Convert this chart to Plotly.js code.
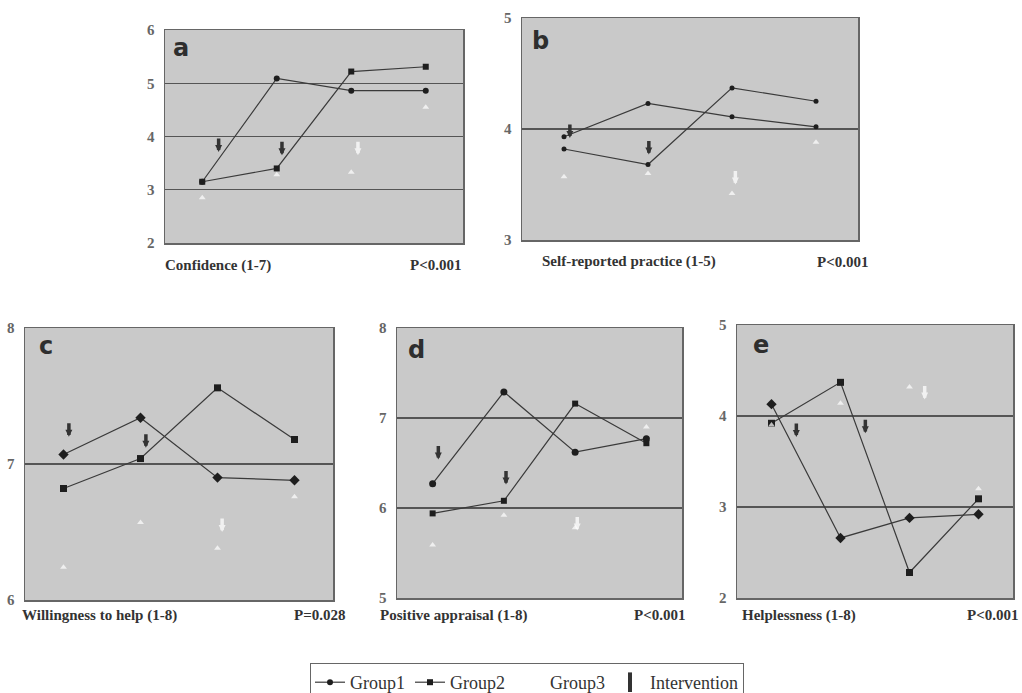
<!DOCTYPE html>
<html>
<head>
<meta charset="utf-8">
<script src="https://cdn.plot.ly/plotly-3.0.1.min.js"></script>
<style>
  html, body { margin: 0; padding: 0; background: #ffffff; }
  #chart { width: 1022px; height: 693px; }
</style>
</head>
<body>
<div id="chart"></div>
<script>
// ---------- DATA ----------
const timepoints = [1, 2, 3, 4];

// a: Confidence (1-7)
const confG1 = [3.15, 5.09, 4.86, 4.86];
const confG2 = [3.15, 3.40, 5.22, 5.31];
const confG3 = [2.85, 3.28, 3.33, 4.55];
const confArrowX = [1.22, 2.07, 3.09];
const confArrowY = [3.71, 3.65, 3.65];

// b: Self-reported practice (1-5)
const practG1 = [3.93, 4.23, 4.11, 4.02];
const practG2 = [3.82, 3.68, 4.37, 4.25];
const practG3 = [3.57, 3.60, 3.42, 3.88];
const practArrowX = [1.07, 2.01, 3.04];
const practArrowY = [3.92, 3.77, 3.50];

// c: Willingness to help (1-8)
const willG1 = [7.07, 7.34, 6.90, 6.88];
const willG2 = [6.82, 7.04, 7.56, 7.18];
const willG3 = [6.24, 6.57, 6.38, 6.76];
const willArrowX = [1.07, 2.07, 3.06];
const willArrowY = [7.20, 7.12, 6.50];

// d: Positive appraisal (1-8)
const apprG1 = [6.27, 7.29, 6.62, 6.77];
const apprG2 = [5.94, 6.08, 7.16, 6.72];
const apprG3 = [5.59, 5.92, 5.78, 6.90];
const apprArrowX = [1.08, 2.03, 3.03];
const apprArrowY = [6.54, 6.26, 5.75];

// e: Helplessness (1-8)
const helpG1 = [4.13, 2.66, 2.88, 2.92];
const helpG2 = [3.92, 4.37, 2.28, 3.09];
const helpG3 = [3.90, 4.14, 4.32, 3.20];
const helpArrowX = [1.36, 2.36, 3.22];
const helpArrowY = [3.77, 3.81, 4.18];

const panelLetters = ['a', 'b', 'c', 'd', 'e'];
const panelTitles = ['Confidence (1-7)', 'Self-reported practice (1-5)', 'Willingness to help (1-8)', 'Positive appraisal (1-8)', 'Helplessness (1-8)'];
const panelPValues = ['P<0.001', 'P<0.001', 'P=0.028', 'P<0.001', 'P<0.001'];
const yRanges = [[2, 6], [3, 5], [6, 8], [5, 8], [2, 5]];
const seriesNames = ['Group1', 'Group2', 'Group3', 'Intervention'];

// ---------- LAYOUT HELPERS ----------
const W = 1022, H = 693;
const px = v => v / W;
const py = v => 1 - v / H;
const serif = 'Liberation Serif';

const panels = [
  {g1: confG1, g2: confG2, g3: confG3, ax: confArrowX, ay: confArrowY,
   box: [165, 463, 30, 243], m1: 'circle', s1: 6, m2: 'square', s2: 6,
   letter: [0.054, 0.915], label: [163, 463, 265]},
  {g1: practG1, g2: practG2, g3: practG3, ax: practArrowX, ay: practArrowY,
   box: [522, 858, 18, 240], m1: 'circle', s1: 5, m2: 'circle', s2: 5,
   letter: [0.054, 0.896], label: [540, 870, 262]},
  {g1: willG1, g2: willG2, g3: willG3, ax: willArrowX, ay: willArrowY,
   box: [25, 333, 328, 600], m1: 'diamond', s1: 8, m2: 'square', s2: 7,
   letter: [0.068, 0.934], label: [20, 347, 615]},
  {g1: apprG1, g2: apprG2, g3: apprG3, ax: apprArrowX, ay: apprArrowY,
   box: [397, 682, 328, 598], m1: 'circle', s1: 7, m2: 'square', s2: 6,
   letter: [0.067, 0.918], label: [378, 687, 615]},
  {g1: helpG1, g2: helpG2, g3: helpG3, ax: helpArrowX, ay: helpArrowY,
   box: [737, 1013, 325, 598], m1: 'diamond', s1: 8, m2: 'square', s2: 7,
   letter: [0.087, 0.927], label: [740, 1020, 615]}
];

const lineColor = '#3a3a3a';
const markColor = '#1e1e1e';
const data = [];
const layout = {
  width: W, height: H,
  margin: {l: 0, r: 0, t: 0, b: 0, autoexpand: false},
  paper_bgcolor: '#ffffff',
  plot_bgcolor: '#c9c9c9',
  showlegend: true,
  legend: {
    orientation: 'h', x: px(310), y: py(663), xanchor: 'left', yanchor: 'top',
    bordercolor: '#666', borderwidth: 1, bgcolor: '#ffffff',
    font: {family: serif, size: 18, color: '#333'},
    itemwidth: 30, tracegroupgap: 0
  },
  annotations: []
};

panels.forEach((p, i) => {
  const n = i === 0 ? '' : String(i + 1);
  const xa = 'x' + n, ya = 'y' + n;
  const [l, r, t, b] = p.box;
  layout['xaxis' + n] = {
    domain: [px(l), px(r)], range: [0.5, 4.5], anchor: ya,
    showgrid: false, zeroline: false, showticklabels: false, ticks: '',
    showline: true, mirror: true, linecolor: '#666', linewidth: 1.5, fixedrange: true
  };
  layout['yaxis' + n] = {
    domain: [py(b), py(t)], range: yRanges[i], anchor: xa, dtick: 1,
    showgrid: true, gridcolor: '#555', gridwidth: 1.3, zeroline: false,
    ticks: '', ticklabelstandoff: 6,
    tickfont: {family: serif, size: 15, color: '#666', weight: 'bold'},
    showline: true, mirror: true, linecolor: '#666', linewidth: 1.5, fixedrange: true
  };
  data.push({
    type: 'scatter', mode: 'lines+markers', x: timepoints, y: p.g1, xaxis: xa, yaxis: ya,
    name: seriesNames[0], legendgroup: 'g1', showlegend: i === 0,
    line: {color: lineColor, width: 1.2},
    marker: {symbol: p.m1, size: p.s1, color: markColor}
  });
  data.push({
    type: 'scatter', mode: 'lines+markers', x: timepoints, y: p.g2, xaxis: xa, yaxis: ya,
    name: seriesNames[1], legendgroup: 'g2', showlegend: i === 0,
    line: {color: lineColor, width: 1.2},
    marker: {symbol: p.m2, size: p.s2, color: markColor}
  });
  data.push({
    type: 'scatter', mode: 'markers', x: timepoints, y: p.g3, xaxis: xa, yaxis: ya,
    name: seriesNames[2], legendgroup: 'g3', showlegend: i === 0,
    marker: {symbol: 'triangle-up', size: 6, color: 'rgba(255,255,255,0.7)'}
  });
  // intervention arrows
  p.ax.forEach((xv, k) => {
    const white = k === 2;
    layout.annotations.push({
      xref: xa, yref: ya, x: xv, y: p.ay[k], text: '', showarrow: true,
      ax: 0, ay: -15, arrowhead: 2, arrowsize: 0.4, arrowwidth: 3.5, standoff: 0,
      arrowcolor: white ? 'rgba(255,255,255,0.75)' : '#333'
    });
  });
  // panel letter
  layout.annotations.push({
    xref: xa + ' domain', yref: ya + ' domain', x: p.letter[0], y: p.letter[1],
    xanchor: 'center', yanchor: 'middle', showarrow: false, text: panelLetters[i],
    font: {family: 'DejaVu Sans', size: 24, color: '#2e2e2e', weight: 'bold'}
  });
  // bottom labels
  const [ll, lr, ly] = p.label;
  layout.annotations.push({
    xref: 'paper', yref: 'paper', x: px(ll), y: py(ly), xanchor: 'left', yanchor: 'middle',
    showarrow: false, text: panelTitles[i],
    font: {family: serif, size: 15, color: '#333', weight: 'bold'}
  });
  layout.annotations.push({
    xref: 'paper', yref: 'paper', x: px(lr), y: py(ly), xanchor: 'right', yanchor: 'middle',
    showarrow: false, text: panelPValues[i],
    font: {family: serif, size: 15, color: '#333', weight: 'bold'}
  });
});

// legend-only entry for the intervention arrow
data.push({
  type: 'scatter', mode: 'markers', x: [null], y: [null], xaxis: 'x', yaxis: 'y',
  name: seriesNames[3], showlegend: true,
  marker: {symbol: 'line-ns', size: 14, color: '#333', line: {width: 4, color: '#333'}}
});

Plotly.newPlot('chart', data, layout, {displayModeBar: false, staticPlot: true});
</script>
</body>
</html>
